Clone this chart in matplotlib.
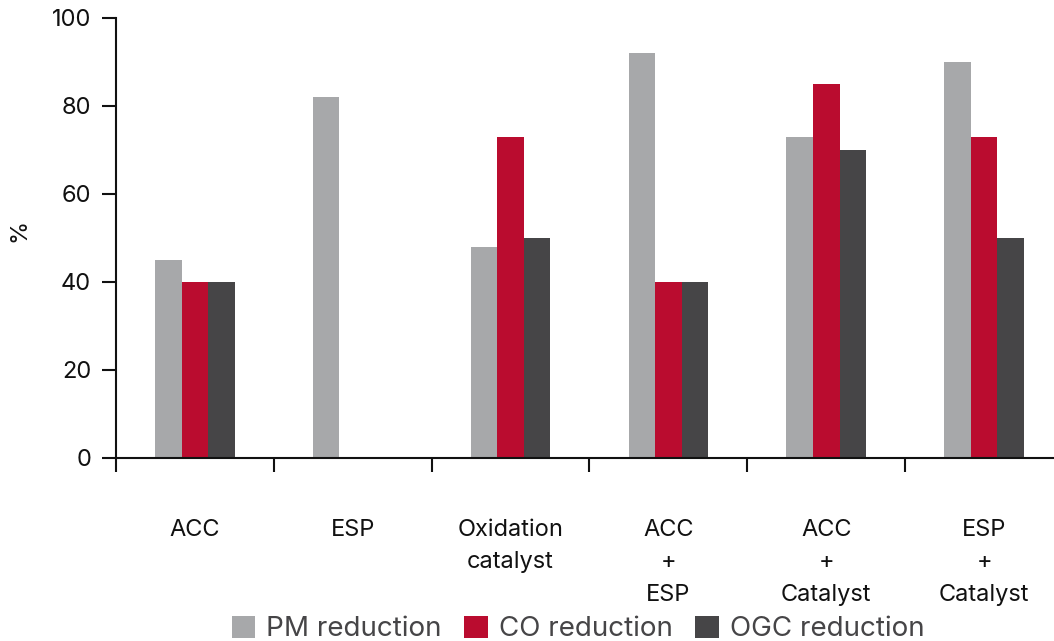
import matplotlib
matplotlib.use("Agg")
import matplotlib.pyplot as plt
import numpy as np
from matplotlib.patches import Patch

categories = ["ACC", "ESP", "Oxidation\ncatalyst", "ACC\n+\nESP", "ACC\n+\nCatalyst", "ESP\n+\nCatalyst"]
series_names = ["PM reduction", "CO reduction", "OGC reduction"]
pm_values = [45, 82, 48, 92, 73, 90]
co_values = [40, 0, 73, 40, 85, 73]
ogc_values = [40, 0, 50, 40, 70, 50]
y_ticks = [0, 20, 40, 60, 80, 100]

colors = ["#A7A8AA", "#BA0C2F", "#464547"]

plt.rcParams["font.family"] = ["Inter", "DejaVu Sans"]

W, H = 1054, 641
fig = plt.figure(figsize=(W / 100, H / 100), dpi=100)
ax = fig.add_axes([116 / W, 1 - 458 / H, (1063 - 116) / W, (458 - 18) / H])

n = len(categories)
x = np.arange(n)
bw = 0.168
for i, (vals, c) in enumerate(zip([pm_values, co_values, ogc_values], colors)):
    ax.bar(x + (i - 1) * bw, vals, width=bw, color=c, linewidth=0, zorder=2)

ax.set_xlim(-0.5, n - 0.5)
ax.set_ylim(0, 100)
ax.set_yticks(y_ticks)
ax.set_yticklabels([str(t) for t in y_ticks])

# Category boundaries carry the tick marks; labels sit at centres
ax.set_xticks(np.arange(n + 1) - 0.5, minor=True)
ax.set_xticks(x)
ax.set_xticklabels(categories, linespacing=1.6, va="top")
ax.tick_params(axis="x", which="major", length=0, pad=44, labelsize=17, colors="#111111")
ax.tick_params(axis="x", which="minor", length=10, width=1.5, direction="out", color="#111111")
ax.tick_params(axis="y", length=10, width=1.5, direction="out", labelsize=17, pad=8,
               color="#111111", labelcolor="#111111")

for s in ["top", "right"]:
    ax.spines[s].set_visible(False)
for s in ["left", "bottom"]:
    ax.spines[s].set_linewidth(1.5)
    ax.spines[s].set_color("#111111")

ax.set_ylabel("%", fontsize=17, color="#111111")
ax.yaxis.set_label_coords(-86 / (1063 - 116), (458 - 230) / (458 - 18))

handles = [Patch(facecolor=c, edgecolor="none") for c in colors]
fig.legend(handles, series_names, loc="center", bbox_to_anchor=(578 / W, 1 - 629 / H),
           ncol=3, frameon=False, fontsize=20, handlelength=0.85, handleheight=0.85,
           handletextpad=0.4, columnspacing=0.8, labelcolor="#464547",
           borderpad=0, borderaxespad=0)

fig.savefig("out.png", dpi=100)
